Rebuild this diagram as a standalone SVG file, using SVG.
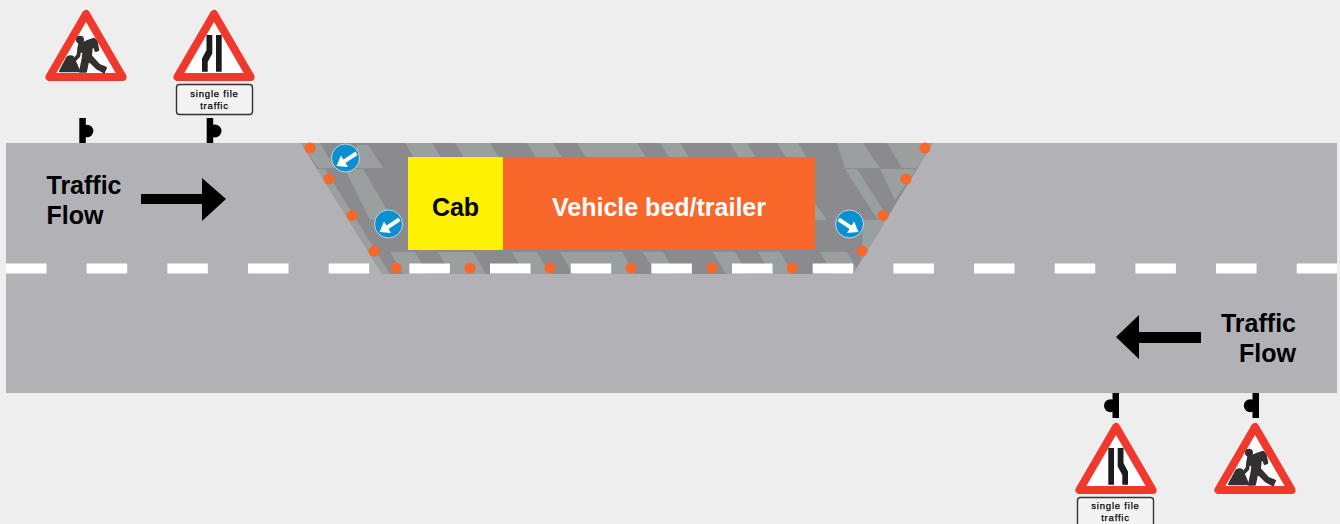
<svg xmlns="http://www.w3.org/2000/svg" width="1340" height="524" viewBox="0 0 1340 524">
<style>
.t{font-family:"Liberation Sans",Arial,sans-serif;font-weight:700;font-size:25px}
.p{font-family:"Liberation Sans",Arial,sans-serif;font-size:9.5px;letter-spacing:.8px;text-anchor:middle;fill:#000;stroke:#000;stroke-width:.25}
.tri{fill:#fff;stroke:#f0382c;stroke-width:8;stroke-linejoin:round}
.plate{fill:#f3f3f3;stroke:#333;stroke-width:1.4}
.fig{fill:#333030;stroke:#333030;stroke-width:6;stroke-linejoin:round}
.st{fill:#9aa09f}
.dot{fill:#f9672b}
.blue{fill:#0a8fd0;stroke:#c8d4dc;stroke-width:1}
.post{fill:#000}
</style>
<defs>
<clipPath id="cp"><polygon points="301,143 933,143 853,274 382,274"/></clipPath>
<g id="worker" transform="translate(30,0) scale(.3333)" class="fig">
<circle cx="150" cy="119" r="9"/>
<path d="M155 130L175 122L192 116L200 125L205 150L197 153L190 135L185 145L183 168L208 195L228 203L222 217L200 205L175 180L168 215L150 215L158 175L160 160L150 150L148 168L135 182L132 178L143 165L145 145L148 130Z"/>
<path d="M90 214L112 172Q122 165 130 172L148 214Z"/>
</g>
<path id="narrow" d="M216 35H221.700V71.700H216ZM206.500 35H212.300V53.500L207.700 62V71.700H202V58.500L206.500 50Z" fill="#1c1c1c"/>
<g id="keep"><circle r="14" class="blue"/><path d="M10 -6.500L-2 1.500L-4.500 -2.500L-9 8L2.500 9L0 5L12 -3Z" fill="#fff"/></g>
</defs>
<rect width="1340" height="524" fill="#eeeeee"/>
<g id="road">
<rect x="6" y="143" width="1331" height="250" fill="#b2b1b6"/>
</g>
<g id="work-area">
<polygon points="301,143 933,143 853,274 382,274" fill="#8b8a8f"/>
<g clip-path="url(#cp)">
<polygon class="st" points="405,143 432,143 448,169 421,169"/>
<polygon class="st" points="455,143 490,143 506,169 471,169"/>
<polygon class="st" points="527,143 553,143 569,169 543,169"/>
<polygon class="st" points="577,143 637,143 653,169 593,169"/>
<polygon class="st" points="660,143 680,143 696,169 676,169"/>
<polygon class="st" points="730,143 747,143 763,169 746,169"/>
<polygon class="st" points="777,143 798,143 814,169 793,169"/>
<polygon class="st" points="837,143 863,143 880,168 845,168"/>
<polygon class="st" points="887,143 940,143 917,168 902,168"/>
<polygon class="st" points="301,143 320,143 335,168 318,168"/>
<polygon class="st" points="317,169 325,169 390,274 382,274"/>
<polygon class="st" points="357,145 368,145 383,168 352,168"/>
<polygon class="st" points="345,169 363,169 390,215 370,220"/>
<polygon class="st" points="845,169 857,169 885,213 878,220"/>
<polygon class="st" points="880,169 916,169 895,200"/>
<polygon class="st" points="863,220 890,220 860,270 862,252"/>
<polygon class="st" points="815,203 827,220 815,220"/>
<polygon class="st" points="390,252 415,252 428,274 403,274"/>
<polygon class="st" points="438,252 473,252 486,274 451,274"/>
<polygon class="st" points="512,252 537,252 550,274 525,274"/>
<polygon class="st" points="560,252 622,252 635,274 573,274"/>
<polygon class="st" points="643,252 663,252 676,274 656,274"/>
<polygon class="st" points="713,252 735,252 748,274 726,274"/>
<polygon class="st" points="758,252 780,252 793,274 771,274"/>
<polygon class="st" points="820,252 847,252 860,274 833,274"/>
</g>
</g>
<line id="centre-line" x1="6" y1="268.500" x2="1337" y2="268.500" stroke="#fff" stroke-width="10" stroke-dasharray="40.500 40.170"/>
<g id="cones">
<circle class="dot" cx="310" cy="148" r="5.500"/><circle class="dot" cx="329" cy="179" r="5.500"/><circle class="dot" cx="352" cy="215.500" r="5.500"/><circle class="dot" cx="374" cy="251" r="5.500"/><circle class="dot" cx="396" cy="268" r="5.500"/><circle class="dot" cx="470" cy="268" r="5.500"/><circle class="dot" cx="550" cy="268" r="5.500"/><circle class="dot" cx="631" cy="268" r="5.500"/><circle class="dot" cx="712" cy="268" r="5.500"/><circle class="dot" cx="792" cy="268" r="5.500"/><circle class="dot" cx="862" cy="251" r="5.500"/><circle class="dot" cx="883" cy="215.500" r="5.500"/><circle class="dot" cx="906" cy="179" r="5.500"/><circle class="dot" cx="925" cy="148" r="5.500"/>
</g>
<g id="keep-left-1"><use href="#keep" x="345.500" y="158"/></g>
<g id="keep-left-2"><use href="#keep" x="388.500" y="224"/></g>
<g id="keep-right"><use href="#keep" transform="translate(849.500,224) scale(-1,1)"/></g>
<g id="cab"><rect x="408" y="157" width="95" height="93" fill="#fff200"/><text class="t" x="455.500" y="216" text-anchor="middle" fill="#000">Cab</text></g>
<g id="trailer"><rect x="503" y="157" width="312" height="93" fill="#f9672b"/><text class="t" x="659" y="216" text-anchor="middle" fill="#fff">Vehicle bed/trailer</text></g>
<g id="flow-left"><text class="t" x="46.500" y="194" fill="#000">Traffic</text><text class="t" x="46.500" y="224" fill="#000">Flow</text></g>
<g id="flow-right"><text class="t" x="1296" y="332" text-anchor="end" fill="#000">Traffic</text><text class="t" x="1296" y="362" text-anchor="end" fill="#000">Flow</text></g>
<g id="connectors">
<polygon points="141,194 202,194 202,178 226,199 202,221 202,204 141,204"/>
<polygon points="1201,332 1139,332 1139,315 1116,337 1139,359 1139,343 1201,343"/>
</g>
<g id="sign-works-top">
<rect class="post" x="79.300" y="118" width="6.500" height="25"/><circle class="post" cx="87" cy="131" r="6.300"/>
<polygon class="tri" points="86,14 49.400,77 122.600,77"/><use href="#worker"/>
</g>
<g id="sign-narrow-top">
<rect class="post" x="206.700" y="118" width="6.500" height="25"/><circle class="post" cx="215" cy="131" r="6.500"/>
<polygon class="tri" points="214,14 177.400,77 250.600,77"/><use href="#narrow"/>
<rect class="plate" x="176.500" y="84.500" width="76" height="30" rx="3"/>
<text class="p" x="214.500" y="96.500">single file</text><text class="p" x="214.500" y="108.700">traffic</text>
</g>
<g id="sign-narrow-bottom">
<rect class="post" x="1112.500" y="393" width="6.500" height="25"/><circle class="post" cx="1110.500" cy="405.700" r="6.500"/>
<polygon class="tri" points="1116,427 1079.400,490 1152.600,490"/><use href="#narrow" transform="translate(1330,413) scale(-1,1)"/>
<rect class="plate" x="1077.500" y="497.500" width="76" height="30" rx="3"/>
<text class="p" x="1115.500" y="509">single file</text><text class="p" x="1115.500" y="521">traffic</text>
</g>
<g id="sign-works-bottom">
<rect class="post" x="1252.500" y="393" width="6.500" height="25"/><circle class="post" cx="1250.300" cy="405.700" r="6.500"/>
<polygon class="tri" points="1255,427 1218.400,490 1291.600,490"/><use href="#worker" transform="translate(1169,413)"/>
</g>
</svg>
